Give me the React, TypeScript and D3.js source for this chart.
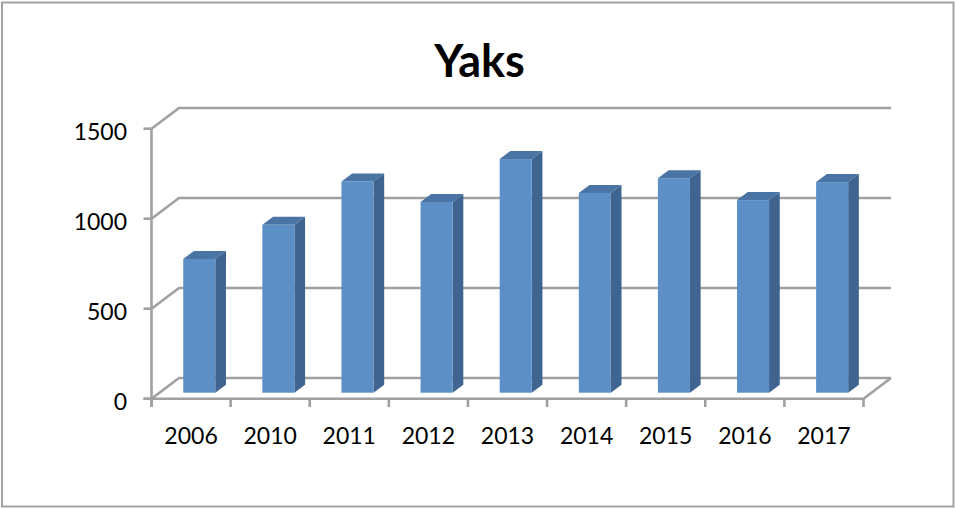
import React from 'react';
import * as d3 from 'd3';

const years = ['2006', '2010', '2011', '2012', '2013', '2014', '2015', '2016', '2017'];
const yaks = [743, 933, 1174, 1060, 1298, 1110, 1192, 1070, 1170];
const valueTicks = [0, 500, 1000, 1500];

const width = 955;
const height = 508;

// front edge of the 3D floor, the back wall sits up and to the right of it
const floorLeft = 151.5;
const floorRight = 863.5;
const depthX = 27.5;
const depthY = 20.7;

// bars stand part way into the floor
const barDepthX = 10.7;
const barDepthY = 8;
const barShiftX = 8.2;
const barShiftY = 6;

const GRID = '#a0a0a0';
const GRID_W = 2.6;
const FONT = 'Lato, sans-serif';

const App = () => {
  const x = d3.scaleBand<string>().domain(years).range([floorLeft, floorRight]);
  const y = d3.scaleLinear().domain([0, 1500]).range([398.7, 128.7]);

  const barX = d3.scaleBand<string>()
    .domain(years)
    .range([floorLeft + barShiftX, floorRight + barShiftX])
    .paddingInner(0.595)
    .paddingOuter(0.2975);

  const poly = (pts: [number, number][]) => {
    const p = d3.path();
    pts.forEach(([a, b], i) => (i === 0 ? p.moveTo(a, b) : p.lineTo(a, b)));
    p.closePath();
    return p.toString();
  };

  const line = d3.line();
  const tickEdges = [...years.map(d => x(d) as number), floorRight];

  return (
    <svg width={width} height={height} style={{ position: 'absolute', left: 0, top: 0, background: '#fff' }}>
      {/* chart frame */}
      <rect x={2} y={2.5} width={951.5} height={504} fill="#fff" stroke="#a3a3a3" strokeWidth={2} />

      <text x={479.5} y={77} textAnchor="middle" fontFamily={FONT} fontWeight={700} fontSize={45} fill="#000">
        Yaks
      </text>

      {/* gridlines with their run along the side wall */}
      {valueTicks.map(t => (
        <path
          key={t}
          d={line([
            [floorLeft, y(t)],
            [floorLeft + depthX, y(t) - depthY],
            [floorRight + depthX, y(t) - depthY],
          ]) as string}
          fill="none"
          stroke={GRID}
          strokeWidth={GRID_W}
        />
      ))}

      {/* floor edges */}
      <path
        d={line([
          [floorRight + depthX, y(0) - depthY],
          [floorRight, y(0)],
          [floorLeft - 8, y(0)],
        ]) as string}
        fill="none"
        stroke={GRID}
        strokeWidth={GRID_W}
      />

      {/* value axis */}
      <line x1={floorLeft} x2={floorLeft} y1={y(1500)} y2={407} stroke={GRID} strokeWidth={GRID_W} />
      {valueTicks.map(t => (
        <g key={t}>
          <line x1={floorLeft - 8} x2={floorLeft} y1={y(t)} y2={y(t)} stroke={GRID} strokeWidth={GRID_W} />
          <text x={127} y={y(t) + 11} textAnchor="end" fontFamily={FONT} fontSize={23} fill="#000">
            {t}
          </text>
        </g>
      ))}

      {/* category axis */}
      {tickEdges.map(t => (
        <line key={t} x1={t} x2={t} y1={y(0)} y2={407} stroke={GRID} strokeWidth={GRID_W} />
      ))}
      {years.map(d => (
        <text
          key={d}
          x={(x(d) as number) + x.bandwidth() / 2}
          y={444}
          textAnchor="middle"
          fontFamily={FONT}
          fontSize={23}
          fill="#000"
        >
          {d}
        </text>
      ))}

      {/* bars */}
      {years.map((d, i) => {
        const x0 = barX(d) as number;
        const x1 = x0 + barX.bandwidth();
        const base = y(0) - barShiftY;
        const top = base - (y(0) - y(yaks[i]));
        return (
          <g key={d}>
            <path
              d={poly([[x1, top], [x1 + barDepthX, top - barDepthY], [x1 + barDepthX, base - barDepthY], [x1, base]])}
              fill="#3f6490"
            />
            <path
              d={poly([[x0, top], [x0 + barDepthX, top - barDepthY], [x1 + barDepthX, top - barDepthY], [x1, top]])}
              fill="#4a74a3"
            />
            <rect x={x0} y={top} width={x1 - x0} height={base - top} fill="#5b8fc5" />
          </g>
        );
      })}
    </svg>
  );
};

export default App;
